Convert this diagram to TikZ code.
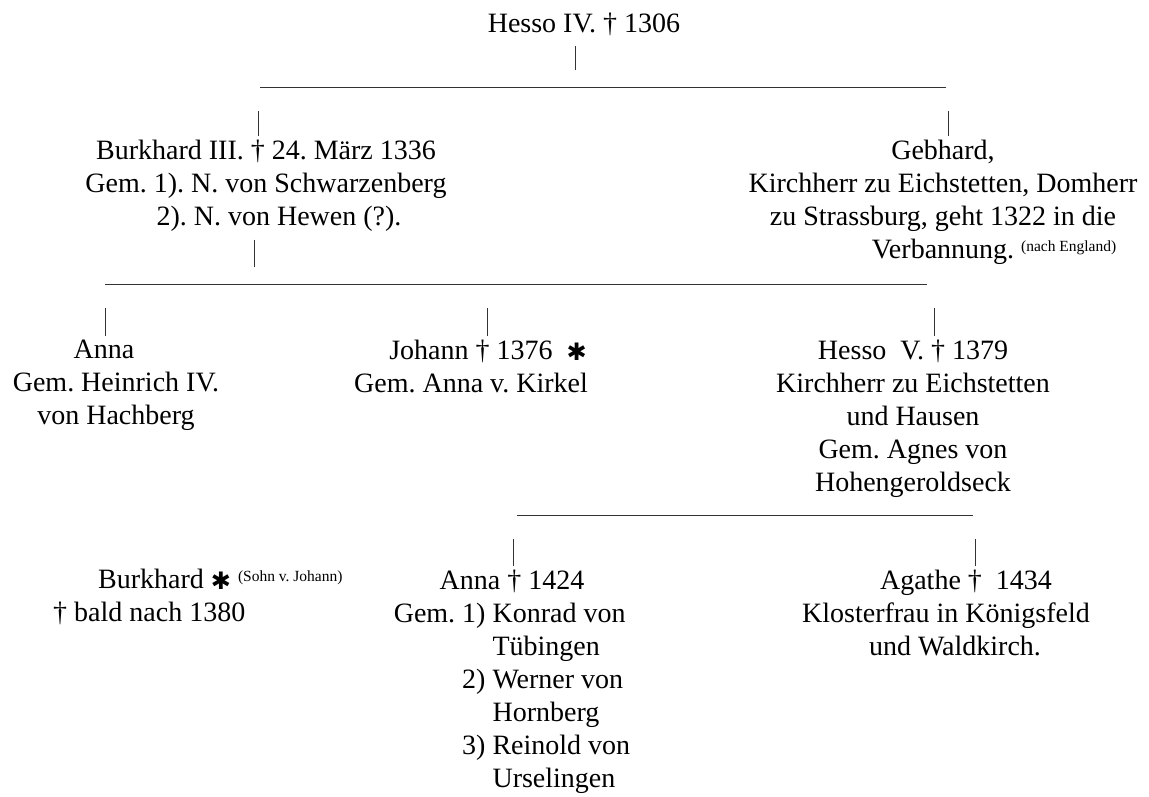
\documentclass[tikz,border=0pt]{standalone}
\usepackage{fontspec}
\setmainfont{Liberation Serif}
\newfontfamily\dejavu{DejaVu Sans}
\usetikzlibrary{calc}
\frenchspacing
\newcommand{\gen}{\fontsize{28}{33}\selectfont}
\newcommand{\anm}[1]{\raisebox{7pt}{\fontsize{15.5}{15.5}\selectfont #1}}
\newcommand{\stern}{\raisebox{-1pt}{\dejavu\fontsize{24}{24}\selectfont ✱}}

\begin{document}
\begin{tikzpicture}[
  x=1pt,y=-1pt,
  every node/.style={font=\gen,align=center,inner sep=0pt,anchor=north,
    execute at begin node=\strut,execute at end node=\strut},
  bar/.style={line width=0.8pt,black!80},
  down/.style={line width=1pt,black!80,shorten <=24pt,shorten >=4pt},
  up/.style={line width=1pt,black!80,shorten <=4pt,shorten >=17pt}
  ]
  \useasboundingbox (0,0) rectangle (1149,796);

  % erste Generation
  \node (hessoIV) at (584,9) {Hesso IV. † 1306};
  \coordinate (g1a) at (260,87);
  \coordinate (g1b) at (946,87);
  \coordinate (pIV) at (575,87);
  \draw[bar] (g1a) -- (g1b);
  \draw[up] (hessoIV.south -| pIV) -- (pIV);

  % zweite Generation
  \node (burkhardIII) at (266,140) {Burkhard III. † 24. März 1336\\
    Gem. 1). N. von Schwarzenberg\\ \hspace*{26pt}2). N. von Hewen (?).};
  \node (gebhard) at (943,140) {Gebhard,\\ Kirchherr zu Eichstetten, Domherr\\
    zu Strassburg, geht 1322 in die\\ Verbannung.\rlap{\ \anm{(nach England)}}};
  \coordinate (k1) at (258,87);
  \coordinate (k2) at (948,87);
  \draw[down] (k1) -- (k1 |- burkhardIII.north);
  \draw[down] (k2) -- (k2 |- gebhard.north);

  \coordinate (g2a) at (105,284);
  \coordinate (g2b) at (927,284);
  \coordinate (pIII) at (254,284);
  \draw[bar] (g2a) -- (g2b);
  \draw[up] (burkhardIII.south -| pIII) -- (pIII);

  % dritte Generation
  \node (annaI) at (116,340) {Anna\hspace*{24pt}\\ Gem. Heinrich IV.\\ von Hachberg};
  \node (johann) at (471,340) {Johann † 1376\rlap{\ \ \stern}\\ Gem. Anna v. Kirkel};
  \node (hessoV) at (913,340) {Hesso\ \ V. † 1379\\ Kirchherr zu Eichstetten\\
    und Hausen\\ Gem. Agnes von\\ Hohengeroldseck};
  \coordinate (k3) at (105,284);
  \coordinate (k4) at (487,284);
  \coordinate (k5) at (934,284);
  \draw[down] (k3) -- (k3 |- annaI.north);
  \draw[down] (k4) -- (k4 |- johann.north);
  \draw[down] (k5) -- (k5 |- hessoV.north);

  \coordinate (g3a) at (517,515);
  \coordinate (g3b) at (973,515);
  \draw[bar] (g3a) -- (g3b);

  % vierte Generation
  \node[anchor=north west,align=left] (burkhard) at (53,569)
    {\hspace*{45pt}Burkhard \stern\ \anm{(Sohn v. Johann)}\\ † bald nach 1380};
  \node (annaII) at (512,570) {Anna † 1424\\
    \begin{tabular}[t]{@{}r@{\ }l@{}}
      Gem. 1) & Konrad von\\
              & Tübingen\\
           2) & Werner von\\
              & Hornberg\\
           3) & Reinold von\\
              & Urselingen
    \end{tabular}};
  \node (agathe) at (946,570) {\hspace*{40pt}Agathe †\ \ 1434\\
    Klosterfrau in Königsfeld\\ \hspace*{18pt}und Waldkirch.};
  \coordinate (k6) at (513,515);
  \coordinate (k7) at (975,515);
  \draw[down] (k6) -- (k6 |- annaII.north);
  \draw[down] (k7) -- (k7 |- agathe.north);
\end{tikzpicture}
\end{document}
